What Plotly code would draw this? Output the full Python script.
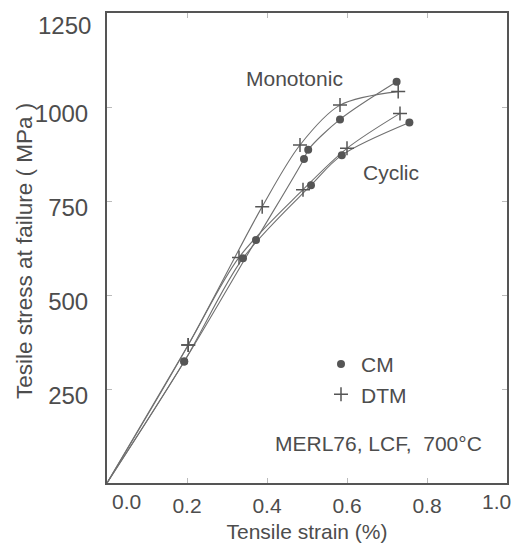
import plotly.graph_objects as go

# Monotonic curves
mono_dtm_x = [0.0, 0.203, 0.388, 0.4825, 0.5825, 0.728]
mono_dtm_y = [0, 367, 735, 899, 1005, 1041]
mono_cm_x = [0.0, 0.193, 0.3725, 0.4925, 0.503, 0.5825, 0.724]
mono_cm_y = [0, 323, 646, 862, 886, 967, 1067]
# Cyclic curves
cyc_dtm_x = [0.0, 0.203, 0.33, 0.49, 0.60, 0.7325]
cyc_dtm_y = [0, 367, 600, 780, 890, 983]
cyc_cm_x = [0.0, 0.193, 0.34, 0.51, 0.587, 0.756]
cyc_cm_y = [0, 323, 598, 792, 872, 959]

x_ticks = [0.0, 0.2, 0.4, 0.6, 0.8, 1.0]
x_ticklabels = ["0.0", "0.2", "0.4", "0.6", "0.8", "1.0"]
y_ticks = [250, 500, 750, 1000, 1250]
y_ticklabels = ["250", "500", "750", "1000", "1250"]

FONT = "Liberation Sans, Arial, sans-serif"
TXT = "#4d4d4d"
LINE = "#707070"
MARK = "#555555"

fig = go.Figure()
for xs, ys in [(mono_dtm_x, mono_dtm_y), (mono_cm_x, mono_cm_y),
               (cyc_dtm_x, cyc_dtm_y), (cyc_cm_x, cyc_cm_y)]:
    fig.add_trace(go.Scatter(x=xs, y=ys, mode="lines",
                             line=dict(color=LINE, width=1.1, shape="spline", smoothing=0.9),
                             showlegend=False, hoverinfo="skip"))

fig.add_trace(go.Scatter(x=mono_cm_x[1:] + cyc_cm_x[1:], y=mono_cm_y[1:] + cyc_cm_y[1:],
                         mode="markers", name="CM",
                         marker=dict(symbol="circle", size=8, color=MARK)))
fig.add_trace(go.Scatter(x=mono_dtm_x[1:] + cyc_dtm_x[1:], y=mono_dtm_y[1:] + cyc_dtm_y[1:],
                         mode="markers", name="DTM",
                         marker=dict(symbol="cross-thin", size=10, color=MARK,
                                     line=dict(color=MARK, width=1.5))))

fig.add_annotation(x=0.469, y=1077, text="Monotonic", showarrow=False,
                   font=dict(family=FONT, size=21, color=TXT))
fig.add_annotation(x=0.71, y=827, text="Cyclic", showarrow=False,
                   font=dict(family=FONT, size=21, color=TXT))
fig.add_annotation(x=0.679, y=106, text="MERL76, LCF,  700°C", showarrow=False,
                   font=dict(family=FONT, size=21, color=TXT))

# End tick labels sit slightly inward in the original
fig.add_annotation(x=x_ticks[0], y=0, xref="x", yref="paper", text=x_ticklabels[0],
                   showarrow=False, xanchor="center", yanchor="top", xshift=19, yshift=-5,
                   font=dict(family=FONT, size=21, color=TXT))
fig.add_annotation(x=x_ticks[-1], y=0, xref="x", yref="paper", text=x_ticklabels[-1],
                   showarrow=False, xanchor="center", yanchor="top", xshift=-11, yshift=-5,
                   font=dict(family=FONT, size=21, color=TXT))
fig.add_annotation(x=0, y=y_ticks[-1], xref="paper", yref="y", text=y_ticklabels[-1],
                   showarrow=False, xanchor="right", yanchor="middle", xshift=-14, yshift=-12,
                   font=dict(family=FONT, size=24, color=TXT))
# y-axis title
fig.add_annotation(x=0, y=0.5, xref="paper", yref="paper", text="Tesile stress at failure ( MPa )",
                   showarrow=False, textangle=-90, xanchor="center", yanchor="middle",
                   xshift=-83, yshift=-3,
                   font=dict(family=FONT, size=22.5, color=TXT))

axis_common = dict(showline=True, linecolor="#555555", linewidth=2, mirror="ticks",
                   ticks="inside", ticklen=5, tickcolor="#bbbbbb", showgrid=False,
                   zeroline=False, automargin=False)

fig.update_xaxes(range=[0, 1.0], tickvals=x_ticks,
                 ticktext=[""] + x_ticklabels[1:-1] + [""],
                 tickfont=dict(family=FONT, size=21, color=TXT), ticklabelstandoff=3,
                 title=dict(text="Tensile strain (%)", font=dict(family=FONT, size=21, color=TXT), standoff=8),
                 **axis_common)
fig.update_yaxes(range=[0, 1250], tickvals=y_ticks,
                 ticktext=y_ticklabels[:-1] + [""],
                 tickfont=dict(family=FONT, size=24, color=TXT), ticklabelstandoff=12,
                 ticklabelshift=7,
                 **axis_common)

fig.update_layout(width=512, height=548, margin=dict(l=107, r=5, t=13, b=65),
                  plot_bgcolor="white", paper_bgcolor="white",
                  legend=dict(x=0.535, y=0.296, xanchor="left", yanchor="top",
                              bgcolor="rgba(0,0,0,0)", font=dict(family=FONT, size=21, color=TXT),
                              itemwidth=30, tracegroupgap=0))

fig.write_html("out.html", config={"displayModeBar": False},
               post_script="document.body.style.margin='0';document.body.style.overflow='hidden';")
